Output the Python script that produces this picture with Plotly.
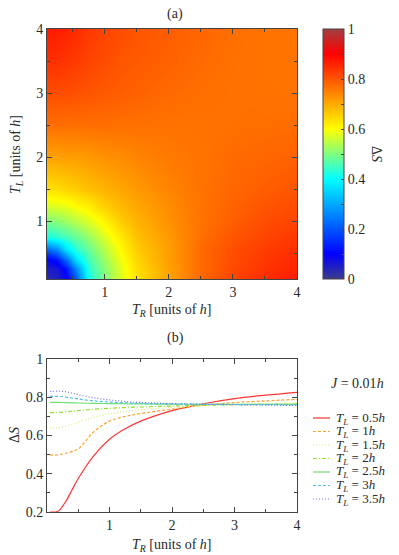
import plotly.graph_objects as go

# ---- panel (a): Delta S over (T_R, T_L) ----
grid_tr = [0.1, 0.25, 0.4, 0.55, 0.75, 1, 1.25, 1.5, 2, 2.5, 3, 3.5, 4]
grid_tl = [0.1, 0.25, 0.4, 0.55, 0.75, 1, 1.25, 1.5, 2, 2.5, 3, 3.5, 4]
ds_map = [
    [0.03, 0.05, 0.085, 0.21, 0.42, 0.50, 0.575, 0.635, 0.71, 0.78, 0.82, 0.85, 0.87],
    [0.05, 0.06, 0.12, 0.26, 0.435, 0.51, 0.58, 0.64, 0.71, 0.775, 0.815, 0.84, 0.86],
    [0.085, 0.12, 0.22, 0.36, 0.455, 0.525, 0.59, 0.65, 0.715, 0.775, 0.81, 0.835, 0.855],
    [0.21, 0.26, 0.36, 0.43, 0.48, 0.545, 0.605, 0.66, 0.715, 0.775, 0.81, 0.83, 0.845],
    [0.42, 0.435, 0.455, 0.48, 0.52, 0.575, 0.625, 0.675, 0.72, 0.77, 0.80, 0.82, 0.835],
    [0.50, 0.51, 0.525, 0.545, 0.575, 0.615, 0.66, 0.69, 0.73, 0.765, 0.79, 0.81, 0.82],
    [0.575, 0.58, 0.59, 0.605, 0.625, 0.66, 0.685, 0.705, 0.735, 0.765, 0.785, 0.80, 0.81],
    [0.635, 0.64, 0.65, 0.66, 0.675, 0.69, 0.705, 0.72, 0.745, 0.765, 0.78, 0.79, 0.80],
    [0.71, 0.71, 0.715, 0.715, 0.72, 0.73, 0.735, 0.745, 0.757, 0.765, 0.775, 0.78, 0.785],
    [0.77, 0.77, 0.77, 0.77, 0.77, 0.77, 0.768, 0.767, 0.766, 0.766, 0.768, 0.77, 0.772],
    [0.81, 0.81, 0.808, 0.805, 0.80, 0.795, 0.79, 0.785, 0.775, 0.77, 0.767, 0.766, 0.765],
    [0.845, 0.843, 0.838, 0.832, 0.82, 0.81, 0.80, 0.795, 0.785, 0.775, 0.768, 0.765, 0.763],
    [0.87, 0.867, 0.86, 0.85, 0.835, 0.82, 0.81, 0.80, 0.79, 0.78, 0.77, 0.765, 0.762],
]

# ---- panel (b): Delta S vs T_R for several T_L ----
t_r = [0.05, 0.1, 0.15, 0.2, 0.3, 0.4, 0.5, 0.75, 1, 1.25, 1.5, 2, 2.5, 3, 3.5, 4]
t_l_labels = ["0.5", "1", "1.5", "2", "2.5", "3", "3.5"]
ds_curves = [
    [0.2, 0.2, 0.201, 0.21, 0.255, 0.315, 0.375, 0.495, 0.58, 0.635, 0.675, 0.73, 0.766, 0.793, 0.811, 0.826],
    [0.497, 0.497, 0.498, 0.5, 0.507, 0.517, 0.53, 0.62, 0.675, 0.7, 0.715, 0.738, 0.758, 0.772, 0.781, 0.789],
    [0.64, 0.64, 0.64, 0.642, 0.648, 0.658, 0.668, 0.695, 0.713, 0.726, 0.735, 0.748, 0.756, 0.762, 0.767, 0.77],
    [0.72, 0.72, 0.72, 0.721, 0.724, 0.727, 0.73, 0.737, 0.742, 0.746, 0.749, 0.754, 0.758, 0.761, 0.763, 0.765],
    [0.773, 0.773, 0.773, 0.773, 0.772, 0.771, 0.77, 0.768, 0.767, 0.766, 0.765, 0.764, 0.763, 0.763, 0.763, 0.763],
    [0.805, 0.805, 0.805, 0.804, 0.801, 0.796, 0.791, 0.781, 0.775, 0.771, 0.768, 0.765, 0.763, 0.762, 0.761, 0.76],
    [0.83, 0.831, 0.832, 0.832, 0.829, 0.822, 0.814, 0.797, 0.786, 0.778, 0.773, 0.767, 0.763, 0.761, 0.759, 0.757],
]
line_colors = ["#ff3535", "#ffa030", "#d8f080", "#90e030", "#70e070", "#50c0f0", "#7878f0"]
line_dashes = ["solid", "3px,2px", "1px,2px", "4px,2px,1px,2px", "solid", "3px,2px", "1px,2px"]

FONT = "Liberation Serif, Times New Roman, serif"
FS = 14
# page body has an 8px margin, so the figure is a bit smaller than the window
OFF = 8
W, H = 399 - OFF, 555 - OFF
AX = "#444444"
TXT = "#2a2a2a"


def px_x(p):
    return (p - OFF) / W


def px_y(p):
    return 1 - (p - OFF) / H


jetlike = [
    [0.0, "#3c3c8c"],
    [0.1, "#0000ff"],
    [0.4, "#00ffff"],
    [0.6, "#ffff00"],
    [0.9, "#ff0000"],
    [1.0, "#a04040"],
]

fig = go.Figure()

cb_ticks = [i / 10 for i in range(11)]
cb_text = [("0" if i == 0 else ("1" if i == 10 else f"{v:.1f}")) if i % 2 == 0 else ""
           for i, v in enumerate(cb_ticks)]

fig.add_trace(go.Heatmap(
    x=grid_tr, y=grid_tl, z=ds_map,
    zmin=0, zmax=1, zsmooth="best",
    colorscale=jetlike,
    xaxis="x", yaxis="y",
    colorbar=dict(
        x=px_x(323), xanchor="left", xpad=0,
        y=px_y(154), yanchor="middle", ypad=0,
        len=250, lenmode="pixels",
        thickness=21, thicknessmode="pixels",
        outlinewidth=1, outlinecolor=AX,
        tickvals=cb_ticks, ticktext=cb_text,
        ticks="inside", ticklen=3, tickcolor=AX,
        tickfont=dict(family=FONT, size=FS, color=TXT),
    ),
))

for lab, ys, col, dsh in zip(t_l_labels, ds_curves, line_colors, line_dashes):
    fig.add_trace(go.Scatter(
        x=t_r, y=ys, mode="lines", line=dict(color=col, width=1.2, dash=dsh, shape="spline"),
        xaxis="x2", yaxis="y2", showlegend=False, name=f"T_L = {lab}h",
    ))

axis_common = dict(
    showline=True, linecolor=AX, linewidth=1, mirror="ticks",
    ticks="inside", ticklen=5, tickcolor=AX, showgrid=False, zeroline=False,
    tickfont=dict(family=FONT, size=FS, color=TXT),
    automargin=False,
)
minor_half = dict(dtick=0.5, tick0=0, ticks="inside", ticklen=3, tickcolor=AX)

fig.update_layout(
    width=W, height=H,
    margin=dict(l=0, r=0, t=0, b=0),
    paper_bgcolor="white", plot_bgcolor="white",
    font=dict(family=FONT, size=FS, color=TXT),
    showlegend=False,
    xaxis=dict(domain=[px_x(47), px_x(297)], range=[0.1, 4], anchor="y",
               tickvals=[1, 2, 3, 4], minor=minor_half, **axis_common),
    yaxis=dict(domain=[px_y(279), px_y(29)], range=[0.1, 4], anchor="x",
               tickvals=[1, 2, 3, 4], minor=minor_half, **axis_common),
    xaxis2=dict(domain=[px_x(47), px_x(297)], range=[0, 4], anchor="y2",
                tickvals=[1, 2, 3, 4], minor=minor_half, **axis_common),
    yaxis2=dict(domain=[px_y(512), px_y(359)], range=[0.2, 1], anchor="x2",
                tickvals=[0.2, 0.4, 0.6, 0.8, 1], ticktext=["0.2", "0.4", "0.6", "0.8", "1"],
                minor=dict(dtick=0.1, tick0=0, ticks="inside", ticklen=3, tickcolor=AX),
                **axis_common),
)

ann = []


def text(x, y, s, angle=0, size=FS, xanchor="center"):
    ann.append(dict(x=px_x(x), y=px_y(y), xref="paper", yref="paper", text=s,
                    showarrow=False, textangle=angle, xanchor=xanchor, yanchor="middle",
                    borderpad=0, font=dict(family=FONT, size=size, color=TXT)))


text(175, 14, "(a)")
text(175, 338, "(b)")
text(172, 310, "<i>T</i><sub><i>R</i></sub> [units of <i>h</i>]")
text(16, 155, "<i>T</i><sub><i>L</i></sub> [units of <i>h</i>]", angle=-90)
text(376, 154, "Δ<i>S</i>", angle=90)
text(172, 545, "<i>T</i><sub><i>R</i></sub> [units of <i>h</i>]")
text(14, 435, "Δ<i>S</i>", angle=-90)
text(357, 383, "<i>J</i> = 0.01<i>h</i>")

shapes = []
for i, (lab, col, dsh) in enumerate(zip(t_l_labels, line_colors, line_dashes)):
    yy = 418 + 13.5 * i
    shapes.append(dict(type="line", xref="paper", yref="paper",
                       x0=px_x(313), x1=px_x(330), y0=px_y(yy), y1=px_y(yy),
                       line=dict(color=col, width=1.2, dash=dsh)))
    text(335, yy, f"<i>T</i><sub><i>L</i></sub> = {lab}<i>h</i>", xanchor="left", size=13)

fig.update_layout(annotations=ann, shapes=shapes)

fig.write_html("out.html")
